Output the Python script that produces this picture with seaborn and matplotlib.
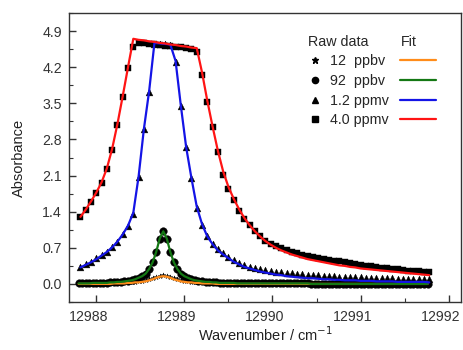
import numpy as np
import pandas as pd
import matplotlib
matplotlib.use("Agg")
import matplotlib.pyplot as plt
from matplotlib.lines import Line2D
from matplotlib.ticker import MultipleLocator
from matplotlib.transforms import ScaledTranslation
import seaborn as sns

# ---------------- data ----------------
# wavenumber grid for the 1.2 ppmv and 4.0 ppmv spectra (cm-1)
wn_high = [12987.82, 12987.88, 12987.94, 12988.00, 12988.06, 12988.12, 12988.18, 12988.24,
           12988.30, 12988.36, 12988.42, 12988.48, 12988.54, 12988.60, 12988.66, 12988.72,
           12988.78, 12988.84, 12988.90, 12988.96, 12989.02, 12989.08, 12989.14, 12989.20,
           12989.26, 12989.32, 12989.38, 12989.44, 12989.50, 12989.56, 12989.62, 12989.68,
           12989.74, 12989.80, 12989.86, 12989.92, 12989.98, 12990.04, 12990.10, 12990.16,
           12990.22, 12990.28, 12990.34, 12990.40, 12990.46, 12990.52, 12990.58, 12990.64,
           12990.70, 12990.76, 12990.82, 12990.88, 12990.94, 12991.00, 12991.06, 12991.12,
           12991.18, 12991.24, 12991.30, 12991.36, 12991.42, 12991.48, 12991.54, 12991.60,
           12991.66, 12991.72, 12991.78]

raw_4ppmv = [1.30, 1.44, 1.59, 1.76, 1.96, 2.22, 2.60, 3.08, 3.62, 4.18, 4.60, 4.67, 4.66, 4.65,
             4.64, 4.63, 4.62, 4.61, 4.60, 4.59, 4.58, 4.56, 4.50, 4.05, 3.52, 3.05, 2.55, 2.12,
             1.84, 1.63, 1.42, 1.26, 1.14, 1.02, 0.93, 0.84, 0.78, 0.74, 0.70, 0.66, 0.62, 0.60,
             0.57, 0.55, 0.53, 0.51, 0.49, 0.47, 0.45, 0.44, 0.42, 0.41, 0.39, 0.37, 0.35, 0.34,
             0.32, 0.31, 0.30, 0.29, 0.28, 0.27, 0.26, 0.25, 0.25, 0.24, 0.24]
fit_4ppmv = [1.30, 1.44, 1.60, 1.77, 1.97, 2.24, 2.62, 3.10, 3.64, 4.20, 4.75, 4.73, 4.72, 4.70,
             4.69, 4.67, 4.66, 4.64, 4.63, 4.61, 4.60, 4.58, 4.57, 4.10, 3.55, 3.05, 2.58, 2.18,
             1.88, 1.65, 1.45, 1.28, 1.14, 1.02, 0.92, 0.83, 0.76, 0.70, 0.65, 0.61, 0.57, 0.54,
             0.51, 0.48, 0.46, 0.44, 0.42, 0.40, 0.38, 0.36, 0.35, 0.33, 0.32, 0.30, 0.29, 0.28,
             0.27, 0.26, 0.25, 0.24, 0.23, 0.22, 0.21, 0.20, 0.19, 0.18, 0.17]

raw_1p2ppmv = [0.33, 0.38, 0.43, 0.50, 0.56, 0.62, 0.71, 0.82, 0.96, 1.12, 1.36, 2.08, 3.00, 3.72,
               4.64, 4.65, 4.64, 4.63, 4.30, 3.45, 2.65, 2.05, 1.48, 1.15, 0.92, 0.78, 0.67, 0.59,
               0.52, 0.46, 0.41, 0.37, 0.33, 0.31, 0.29, 0.27, 0.25, 0.24, 0.23, 0.22, 0.21, 0.20,
               0.19, 0.18, 0.17, 0.17, 0.16, 0.15, 0.15, 0.14, 0.14, 0.14, 0.13, 0.13, 0.12, 0.12,
               0.12, 0.11, 0.11, 0.11, 0.10, 0.10, 0.10, 0.10, 0.09, 0.09, 0.09]
fit_1p2ppmv = [0.32, 0.37, 0.42, 0.48, 0.55, 0.62, 0.71, 0.82, 0.96, 1.13, 1.38, 2.08, 3.00, 3.74,
               4.67, 4.66, 4.65, 4.64, 4.32, 3.45, 2.65, 2.05, 1.50, 1.16, 0.92, 0.77, 0.65, 0.57,
               0.50, 0.43, 0.38, 0.33, 0.30, 0.27, 0.24, 0.22, 0.20, 0.18, 0.17, 0.15, 0.14, 0.13,
               0.12, 0.11, 0.11, 0.10, 0.09, 0.09, 0.08, 0.08, 0.07, 0.07, 0.07, 0.06, 0.06, 0.06,
               0.05, 0.05, 0.05, 0.05, 0.04, 0.04, 0.04, 0.04, 0.04, 0.04, 0.03]

# wavenumber grid for the 12 ppbv and 92 ppbv spectra (cm-1)
wn_low = [12987.80, 12987.84, 12987.88, 12987.92, 12987.96, 12988.00, 12988.04, 12988.08,
          12988.12, 12988.16, 12988.20, 12988.24, 12988.28, 12988.32, 12988.36, 12988.40,
          12988.44, 12988.48, 12988.52, 12988.56, 12988.60, 12988.64, 12988.68, 12988.72,
          12988.76, 12988.80, 12988.84, 12988.88, 12988.92, 12988.96, 12989.00, 12989.04,
          12989.08, 12989.12, 12989.16, 12989.20, 12989.24, 12989.28, 12989.32, 12989.36,
          12989.40, 12989.44, 12989.48, 12989.52, 12989.56, 12989.60, 12989.64, 12989.68,
          12989.72, 12989.76, 12989.80, 12989.84, 12989.88, 12989.92, 12989.96, 12990.00,
          12990.04, 12990.08, 12990.12, 12990.16, 12990.20, 12990.24, 12990.28, 12990.32,
          12990.36, 12990.40, 12990.44, 12990.48, 12990.52, 12990.56, 12990.60, 12990.64,
          12990.68, 12990.72, 12990.76, 12990.80, 12990.84, 12990.88, 12990.92, 12990.96,
          12991.00, 12991.04, 12991.08, 12991.12, 12991.16, 12991.20, 12991.24, 12991.28,
          12991.32, 12991.36, 12991.40, 12991.44, 12991.48, 12991.52, 12991.56, 12991.60,
          12991.64, 12991.68, 12991.72, 12991.76]

raw_92ppbv = [0.01, 0.01, 0.01, 0.01, 0.02, 0.02, 0.02, 0.02, 0.02, 0.03, 0.03, 0.04, 0.04, 0.05,
              0.06, 0.07, 0.09, 0.12, 0.15, 0.20, 0.29, 0.42, 0.62, 0.88, 1.02, 0.88, 0.62, 0.42,
              0.29, 0.20, 0.15, 0.12, 0.09, 0.07, 0.06, 0.05, 0.04, 0.04, 0.03, 0.03, 0.02, 0.02,
              0.02, 0.02, 0.02, 0.01, 0.01, 0.01, 0.01, 0.01, 0.01, 0.01, 0.01, 0.01, 0.01, 0.01,
              0.01, 0.01, 0.01, 0.01, 0.01, 0.01, 0.01, 0.01, 0.01, 0.01, 0.00, 0.00, 0.00, 0.00,
              0.00, 0.00, 0.00, 0.00, 0.00, 0.00, 0.00, 0.00, 0.00, 0.00, 0.00, 0.00, 0.00, 0.00,
              0.00, 0.00, 0.00, 0.00, 0.00, 0.00, 0.00, 0.00, 0.00, 0.00, 0.00, 0.00, 0.00, 0.00,
              0.00, 0.00]
fit_92ppbv = [0.01, 0.01, 0.01, 0.01, 0.02, 0.02, 0.02, 0.02, 0.02, 0.03, 0.03, 0.04, 0.04, 0.05,
              0.06, 0.07, 0.09, 0.12, 0.15, 0.20, 0.29, 0.42, 0.62, 0.88, 1.02, 0.88, 0.62, 0.42,
              0.29, 0.20, 0.15, 0.12, 0.09, 0.07, 0.06, 0.05, 0.04, 0.04, 0.03, 0.03, 0.02, 0.02,
              0.02, 0.02, 0.02, 0.01, 0.01, 0.01, 0.01, 0.01, 0.01, 0.01, 0.01, 0.01, 0.01, 0.01,
              0.01, 0.01, 0.01, 0.01, 0.01, 0.01, 0.01, 0.01, 0.01, 0.01, 0.00, 0.00, 0.00, 0.00,
              0.00, 0.00, 0.00, 0.00, 0.00, 0.00, 0.00, 0.00, 0.00, 0.00, 0.00, 0.00, 0.00, 0.00,
              0.00, 0.00, 0.00, 0.00, 0.00, 0.00, 0.00, 0.00, 0.00, 0.00, 0.00, 0.00, 0.00, 0.00,
              0.00, 0.00]

raw_12ppbv = [0.00, 0.00, 0.00, 0.00, 0.00, 0.01, 0.01, 0.01, 0.01, 0.01, 0.02, 0.02, 0.02, 0.03,
              0.03, 0.04, 0.04, 0.05, 0.06, 0.07, 0.09, 0.11, 0.14, 0.16, 0.17, 0.16, 0.14, 0.11,
              0.09, 0.07, 0.06, 0.05, 0.04, 0.04, 0.03, 0.03, 0.02, 0.02, 0.02, 0.01, 0.01, 0.01,
              0.01, 0.01, 0.01, 0.01, 0.01, 0.00, 0.00, 0.00, 0.00, 0.00, 0.00, 0.00, 0.00, 0.00,
              0.00, 0.00, 0.00, 0.00, 0.00, 0.00, 0.00, 0.00, 0.00, 0.00, 0.00, 0.00, 0.00, 0.00,
              0.00, 0.00, 0.00, 0.00, 0.00, 0.00, 0.00, 0.00, 0.00, 0.00, 0.00, 0.00, 0.00, 0.00,
              0.00, 0.00, 0.00, 0.00, 0.00, 0.00, 0.00, 0.00, 0.00, 0.00, 0.00, 0.00, 0.00, 0.00,
              0.00, 0.00]
fit_12ppbv = [0.00, 0.00, 0.00, 0.00, 0.00, 0.00, 0.00, 0.00, 0.00, 0.00, 0.01, 0.01, 0.01, 0.01,
              0.02, 0.02, 0.03, 0.03, 0.04, 0.05, 0.07, 0.09, 0.12, 0.14, 0.15, 0.14, 0.12, 0.09,
              0.07, 0.05, 0.04, 0.03, 0.03, 0.02, 0.02, 0.01, 0.01, 0.01, 0.01, 0.00, 0.00, 0.00,
              0.00, 0.00, 0.00, 0.00, 0.00, 0.00, 0.00, 0.00, 0.00, 0.00, 0.00, 0.00, 0.00, 0.00,
              0.00, 0.00, 0.00, 0.00, 0.00, 0.00, 0.00, 0.00, 0.00, 0.00, 0.00, 0.00, 0.00, 0.00,
              0.00, 0.00, 0.00, 0.00, 0.00, 0.00, 0.00, 0.00, 0.00, 0.00, 0.00, 0.00, 0.00, 0.00,
              0.00, 0.00, 0.00, 0.00, 0.00, 0.00, 0.00, 0.00, 0.00, 0.00, 0.00, 0.00, 0.00, 0.00,
              0.00, 0.00]

series_labels = ["12  ppbv", "92  ppbv", "1.2 ppmv", "4.0 ppmv"]
markers = ["*", "o", "^", "s"]
fit_colors = ["#ff8c1a", "#147814", "#1414e6", "#ff1414"]

x_ticks = [12988, 12989, 12990, 12991, 12992]
y_ticks = [0.0, 0.7, 1.4, 2.1, 2.8, 3.5, 4.2, 4.9]

# ---------------- plotting ----------------
sns.set_style("ticks")
plt.rcParams["font.family"] = ["Liberation Sans", "DejaVu Sans"]

fig = plt.figure(figsize=(4.64, 3.5), dpi=100)
ax = fig.add_axes([69 / 464, 1 - 302 / 350, 392 / 464, 289 / 350])

raw_sets = [(wn_low, raw_12ppbv), (wn_low, raw_92ppbv), (wn_high, raw_1p2ppmv), (wn_high, raw_4ppmv)]
fit_sets = [(wn_low, fit_12ppbv), (wn_low, fit_92ppbv), (wn_high, fit_1p2ppmv), (wn_high, fit_4ppmv)]
msizes = [14, 30, 24, 22]

for (xs, ys), m, s in zip(raw_sets, markers, msizes):
    df = pd.DataFrame({"x": xs, "y": ys})
    sns.scatterplot(data=df, x="x", y="y", marker=m, s=s, color="black",
                    edgecolor="black" if m != "*" else None, linewidth=0.3, ax=ax, zorder=2)

for (xs, ys), c in zip(fit_sets, fit_colors):
    df = pd.DataFrame({"x": xs, "y": ys})
    sns.lineplot(data=df, x="x", y="y", color=c, linewidth=1.6, ax=ax, zorder=3,
                 estimator=None, sort=False)

ax.set_xlim(12987.69, 12992.14)
ax.set_ylim(-0.35, 5.25)
ax.set_xticks(x_ticks)
ax.set_xticklabels([str(t) for t in x_ticks])
ax.set_yticks(y_ticks)
ax.set_yticklabels([f"{t:.1f}" for t in y_ticks])
ax.xaxis.set_minor_locator(MultipleLocator(0.5))
ax.yaxis.set_minor_locator(MultipleLocator(0.35))
ax.tick_params(axis="both", which="major", direction="in", length=5, width=1,
               labelsize=10.2, colors="#333333", labelcolor="#333333")
ax.tick_params(axis="x", which="major", pad=6)
ax.tick_params(axis="y", which="major", pad=5)
ax.tick_params(axis="both", which="minor", direction="in", length=3, width=0.8, colors="#333333")
ax.tick_params(top=False, right=False, which="both")
for sp in ax.spines.values():
    sp.set_visible(True)
    sp.set_color("#333333")
    sp.set_linewidth(1.0)

# x tick labels in the reference sit slightly left of their ticks
shift = ScaledTranslation(-8 / 100, 0, fig.dpi_scale_trans)
for lab in ax.get_xticklabels():
    lab.set_transform(lab.get_transform() + shift)

ax.set_xlabel("Wavenumber / cm$^{-1}$", fontsize=10.5, color="#222222", labelpad=1)
ax.set_ylabel("Absorbance", fontsize=10.5, color="#222222", labelpad=12)

# legend: raw data markers with labels, fit lines alongside
mk_handles = [Line2D([], [], linestyle="none", marker=m, color="black", markersize=ms)
              for m, ms in zip(markers, [5, 4.5, 4.5, 4])]
leg1 = ax.legend(mk_handles, series_labels, title="Raw data", loc="upper left",
                 bbox_to_anchor=(0.585, 0.96), frameon=False, fontsize=10.3,
                 title_fontsize=10.3, handlelength=1.0, handletextpad=0.5,
                 labelspacing=0.4, borderpad=0.2, alignment="left")
ax.add_artist(leg1)
ln_handles = [Line2D([], [], color=c, linewidth=1.6) for c in fit_colors]
leg2 = ax.legend(ln_handles, [""] * 4, title="Fit", loc="upper left",
                 bbox_to_anchor=(0.82, 0.96), frameon=False, fontsize=10.3,
                 title_fontsize=10.3, handlelength=2.5, handletextpad=0.0,
                 labelspacing=0.4, borderpad=0.2, alignment="left")

fig.savefig("out.png", dpi=100)
